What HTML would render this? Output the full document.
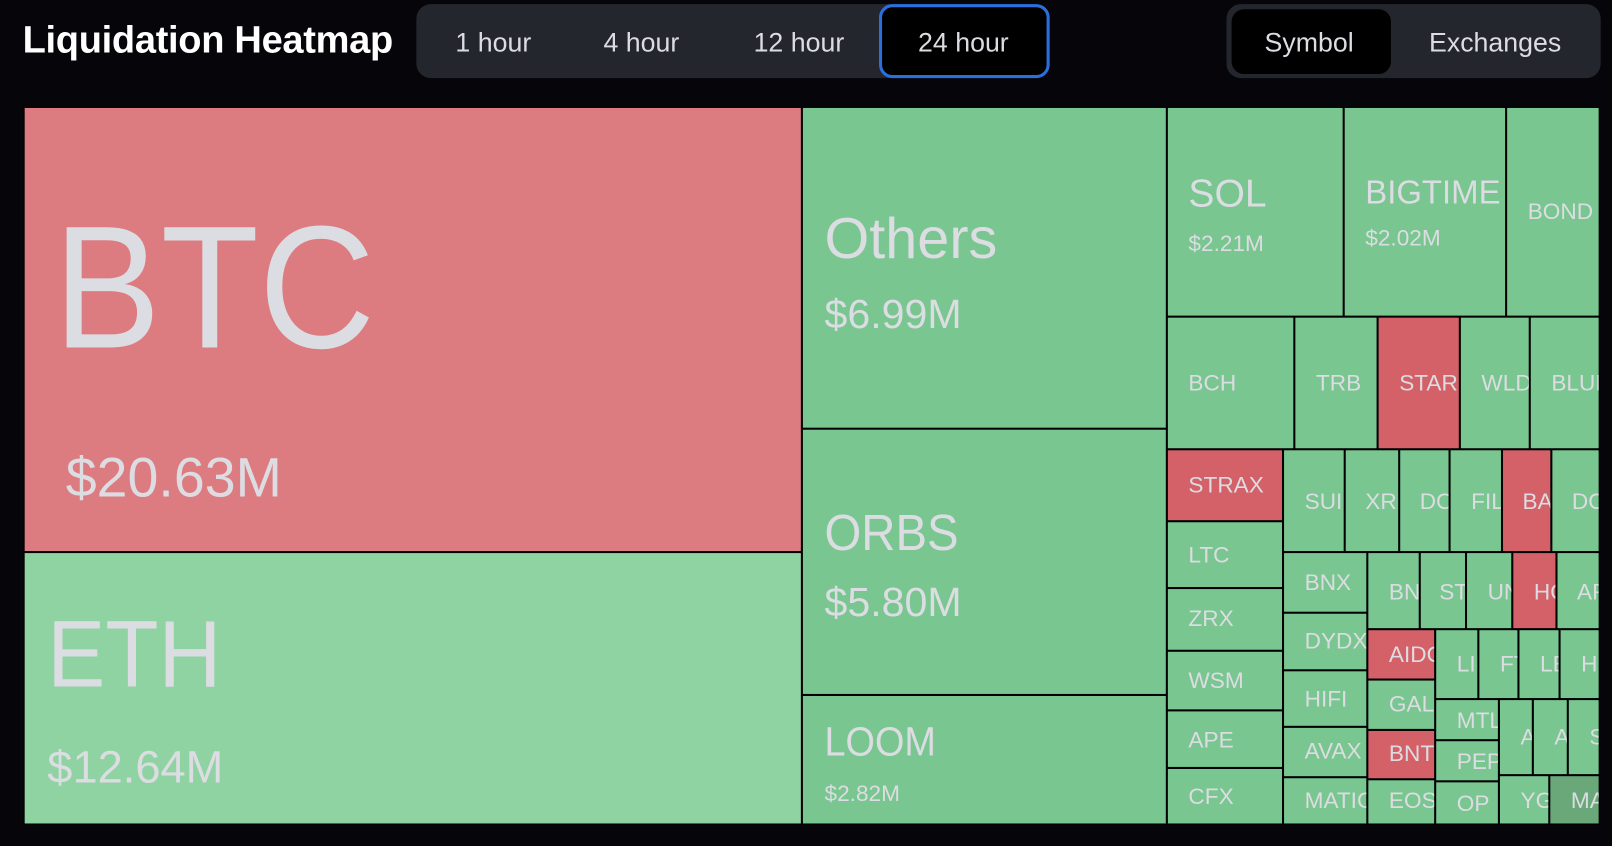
<!DOCTYPE html>
<html><head><meta charset="utf-8"><style>
html,body{margin:0;padding:0;background:#05050a;}
body{width:1612px;height:846px;overflow:hidden;position:relative;font-family:"Liberation Sans",sans-serif;}
#w{position:absolute;left:0;top:0;width:1568px;height:823px;transform:scale(1.02806);transform-origin:0 0;}
.c{position:absolute;overflow:hidden;background:#79c690;}
.r{background:#d46068;}
.t{position:absolute;white-space:nowrap;line-height:1;color:#dcdde2;font-size:22px;}
.n{transform:scaleX(0.92);transform-origin:0 0;}
.tab{position:absolute;color:#dcdde2;font-size:26px;line-height:1;}
</style></head><body><div id="w">
<div style="position:absolute;left:22px;top:20px;color:#fff;font-size:37px;font-weight:bold;letter-spacing:-0.3px;line-height:1">Liquidation Heatmap</div>
<div style="position:absolute;left:405px;top:4px;width:615px;height:72px;background:#23262d;border-radius:14px"></div>
<div style="position:absolute;left:855px;top:4px;width:160px;height:66px;background:#000;border:3px solid #2a6fdb;border-radius:13px"></div>
<div class="tab" style="left:443px;top:28px">1 hour</div>
<div class="tab" style="left:587px;top:28px">4 hour</div>
<div class="tab" style="left:733px;top:28px">12 hour</div>
<div class="tab" style="left:893px;top:28px">24 hour</div>
<div style="position:absolute;left:1193px;top:4px;width:364px;height:72px;background:#23262d;border-radius:14px"></div>
<div style="position:absolute;left:1198px;top:9px;width:155px;height:63px;background:#000;border-radius:12px"></div>
<div class="tab" style="left:1230px;top:28px">Symbol</div>
<div class="tab" style="left:1390px;top:28px">Exchanges</div>
<div style="position:absolute;left:23px;top:104px;width:1533px;height:698px;background:#000"></div>

<div class="c" style="left:24px;top:105px;width:755px;height:431px;background:#dc7c80"><span class="t n" style="left:28px;top:90px;font-size:170px">BTC</span><span class="t" style="left:40px;top:333px;font-size:54px">$20.63M</span></div>
<div class="c" style="left:24px;top:538px;width:755px;height:263px;background:#90d3a3"><span class="t n" style="left:22px;top:53px;font-size:92px">ETH</span><span class="t" style="left:22px;top:187px;font-size:44px">$12.64M</span></div>
<div class="c" style="left:781px;top:105px;width:353px;height:311px"><span class="t" style="left:21px;top:99px;font-size:56px">Others</span><span class="t" style="left:21px;top:181px;font-size:40px">$6.99M</span></div>
<div class="c" style="left:781px;top:418px;width:353px;height:257px"><span class="t n" style="left:21px;top:75px;font-size:50px">ORBS</span><span class="t" style="left:21px;top:148px;font-size:40px">$5.80M</span></div>
<div class="c" style="left:781px;top:677px;width:353px;height:124px"><span class="t n" style="left:21px;top:25px;font-size:40px">LOOM</span><span class="t" style="left:21px;top:84px">$2.82M</span></div>
<div class="c" style="left:1136px;top:105px;width:170px;height:202px"><span class="t" style="left:20px;top:65px;font-size:38px">SOL</span><span class="t" style="left:20px;top:121px">$2.21M</span></div>
<div class="c" style="left:1308px;top:105px;width:156px;height:202px"><span class="t" style="left:20px;top:66px;font-size:32px">BIGTIME</span><span class="t" style="left:20px;top:116px">$2.02M</span></div>
<div class="c" style="left:1466px;top:105px;width:89px;height:202px"><span class="t" style="left:20px;top:90px">BOND</span></div>

<div class="c" style="left:1136px;top:309px;width:122px;height:127px"><span class="t" style="left:20px;top:53px">BCH</span></div>
<div class="c" style="left:1260px;top:309px;width:79px;height:127px"><span class="t" style="left:20px;top:53px">TRB</span></div>
<div class="c r" style="left:1341px;top:309px;width:78px;height:127px"><span class="t" style="left:20px;top:53px">STARK</span></div>
<div class="c" style="left:1421px;top:309px;width:66px;height:127px"><span class="t" style="left:20px;top:53px">WLD</span></div>
<div class="c" style="left:1489px;top:309px;width:66px;height:127px"><span class="t" style="left:20px;top:53px">BLUR</span></div>

<div class="c r" style="left:1136px;top:438px;width:111px;height:68px"><span class="t" style="left:20px;top:23px">STRAX</span></div>
<div class="c" style="left:1136px;top:508px;width:111px;height:63px"><span class="t" style="left:20px;top:21px">LTC</span></div>
<div class="c" style="left:1136px;top:573px;width:111px;height:59px"><span class="t" style="left:20px;top:18px">ZRX</span></div>
<div class="c" style="left:1136px;top:634px;width:111px;height:56px"><span class="t" style="left:20px;top:17px">WSM</span></div>
<div class="c" style="left:1136px;top:692px;width:111px;height:54px"><span class="t" style="left:20px;top:17px">APE</span></div>
<div class="c" style="left:1136px;top:748px;width:111px;height:53px"><span class="t" style="left:20px;top:16px">CFX</span></div>

<div class="c" style="left:1249px;top:438px;width:58px;height:98px"><span class="t" style="left:20px;top:39px">SUI</span></div>
<div class="c" style="left:1309px;top:438px;width:51px;height:98px"><span class="t" style="left:19px;top:39px">XRP</span></div>
<div class="c" style="left:1362px;top:438px;width:47px;height:98px"><span class="t" style="left:19px;top:39px">DOGE</span></div>
<div class="c" style="left:1411px;top:438px;width:49px;height:98px"><span class="t" style="left:20px;top:39px">FIL</span></div>
<div class="c r" style="left:1462px;top:438px;width:46px;height:98px"><span class="t" style="left:19px;top:39px">BAKE</span></div>
<div class="c" style="left:1510px;top:438px;width:45px;height:98px"><span class="t" style="left:19px;top:39px">DOT</span></div>

<div class="c" style="left:1249px;top:538px;width:80px;height:57px"><span class="t" style="left:20px;top:18px">BNX</span></div>
<div class="c" style="left:1249px;top:597px;width:80px;height:54px"><span class="t" style="left:20px;top:16px">DYDX</span></div>
<div class="c" style="left:1249px;top:653px;width:80px;height:53px"><span class="t" style="left:20px;top:16px">HIFI</span></div>
<div class="c" style="left:1249px;top:708px;width:80px;height:47px"><span class="t" style="left:20px;top:12px">AVAX</span></div>
<div class="c" style="left:1249px;top:757px;width:80px;height:44px"><span class="t" style="left:20px;top:11px">MATIC</span></div>

<div class="c" style="left:1331px;top:538px;width:49px;height:73px"><span class="t" style="left:20px;top:27px">BNB</span></div>
<div class="c" style="left:1382px;top:538px;width:43px;height:73px"><span class="t" style="left:18px;top:27px">STX</span></div>
<div class="c" style="left:1427px;top:538px;width:43px;height:73px"><span class="t" style="left:20px;top:27px">UNI</span></div>
<div class="c r" style="left:1472px;top:538px;width:41px;height:73px"><span class="t" style="left:20px;top:27px">HOOK</span></div>
<div class="c" style="left:1515px;top:538px;width:40px;height:73px"><span class="t" style="left:19px;top:27px">ARB</span></div>

<div class="c r" style="left:1331px;top:613px;width:64px;height:47px"><span class="t" style="left:20px;top:13px">AIDOGE</span></div>
<div class="c" style="left:1331px;top:662px;width:64px;height:47px"><span class="t" style="left:20px;top:12px">GALA</span></div>
<div class="c r" style="left:1331px;top:711px;width:64px;height:46px"><span class="t" style="left:20px;top:11px">BNT</span></div>
<div class="c" style="left:1331px;top:759px;width:64px;height:42px"><span class="t" style="left:20px;top:9px">EOS</span></div>

<div class="c" style="left:1397px;top:613px;width:40px;height:66px"><span class="t" style="left:20px;top:22px">LINK</span></div>
<div class="c" style="left:1439px;top:613px;width:37px;height:66px"><span class="t" style="left:20px;top:22px">FTM</span></div>
<div class="c" style="left:1478px;top:613px;width:38px;height:66px"><span class="t" style="left:20px;top:22px">LEVER</span></div>
<div class="c" style="left:1518px;top:613px;width:37px;height:66px"><span class="t" style="left:20px;top:22px">HBAR</span></div>

<div class="c" style="left:1397px;top:681px;width:60px;height:38px"><span class="t" style="left:20px;top:9px">MTL</span></div>
<div class="c" style="left:1397px;top:721px;width:60px;height:38px"><span class="t" style="left:20px;top:9px">PEPE</span></div>
<div class="c" style="left:1397px;top:761px;width:60px;height:40px"><span class="t" style="left:20px;top:10px">OP</span></div>
<div class="c" style="left:1459px;top:681px;width:31px;height:72px"><span class="t" style="left:20px;top:25px">ADA</span></div>
<div class="c" style="left:1492px;top:681px;width:32px;height:72px"><span class="t" style="left:20px;top:25px">ATOM</span></div>
<div class="c" style="left:1526px;top:681px;width:29px;height:72px"><span class="t" style="left:20px;top:25px">SEI</span></div>
<div class="c" style="left:1459px;top:755px;width:47px;height:46px"><span class="t" style="left:20px;top:13px">YGG</span></div>
<div class="c" style="left:1508px;top:755px;width:47px;height:46px;background:#6aa87a"><span class="t" style="left:20px;top:13px">MASK</span></div>
</div></body></html>
